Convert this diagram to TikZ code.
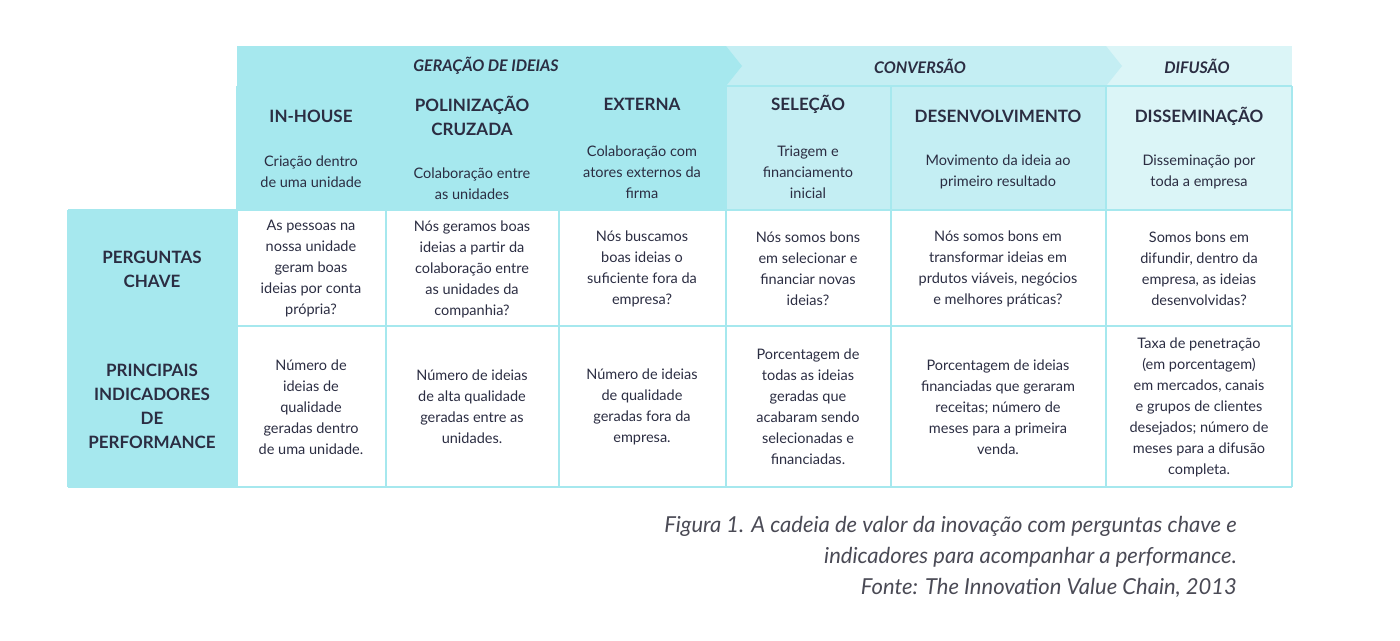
\documentclass[tikz,border=0pt]{standalone}
\usepackage{fontspec}
\setmainfont{Lato}
\definecolor{cA}{HTML}{A6E8EE}
\definecolor{cB}{HTML}{C4EEF3}
\definecolor{cC}{HTML}{DBF5F7}
\definecolor{ink}{HTML}{2B2D42}
\definecolor{cap}{HTML}{4A4A55}
\begin{document}
\begin{tikzpicture}[x=1pt,y=-1pt,
 body/.style={align=center,text=ink,font=\fontsize{14.5}{21}\selectfont,inner sep=0pt},
 hd/.style={align=center,text=ink,font=\bfseries\fontsize{17}{24}\selectfont,inner sep=0pt},
 band/.style={text=ink,font=\bfseries\itshape\fontsize{16}{20}\selectfont,inner sep=0pt},
 grid/.style={draw=cA,line width=2pt}]
\useasboundingbox (0,0) rectangle (1400,640);
% bands
\fill[cC] (1106,46) rectangle (1292,210);
\fill[cB] (726,46) -- (1106,46) -- (1122,66) -- (1106,86) -- (726,86) -- cycle;
\fill[cB] (726,86) rectangle (1106,210);
\fill[cA] (237,46) -- (726,46) -- (742,66) -- (726,86) -- (237,86) -- cycle;
\fill[cA] (237,86) rectangle (726,210);
\fill[cA] (68,210) rectangle (237,487);
% grid
\draw[grid] (237,86) -- (1292,86);
\draw[grid] (68,210) -- (1292,210);
\draw[grid] (68,326) -- (1292,326);
\draw[grid] (68,487) -- (1292,487);
\draw[grid] (1292,86) -- (1292,487);
\draw[grid] (68,210) -- (68,487);
\foreach \x in {237,386,559,726,891,1106} \draw[grid] (\x,86) -- (\x,487);
% band texts
\node[band] (b1) at (486,66) {GERAÇÃO DE IDEIAS};
\node[band] (b2) at (920,66) {CONVERSÃO};
\node[band] (b3) at (1197,66) {DIFUSÃO};
% headers
\node[hd] (h1) at (311,116) {IN-HOUSE};
\node[hd] (h2) at (472,116) {POLINIZAÇÃO\\CRUZADA};
\node[hd] (h3) at (642,104) {EXTERNA};
\node[hd] (h4) at (808,104) {SELEÇÃO};
\node[hd] (h5) at (998,116) {DESENVOLVIMENTO};
\node[hd] (h6) at (1199,116) {DISSEMINAÇÃO};
\node[body] (d1) at (311,172) {Criação dentro\\de uma unidade};
\node[body] (d2) at (472,184) {Colaboração entre\\as unidades};
\node[body] (d3) at (642,172) {Colaboração com\\atores externos da\\firma};
\node[body] (d4) at (808,172) {Triagem e\\financiamento\\inicial};
\node[body] (d5) at (998,172) {Movimento da ideia ao\\primeiro resultado};
\node[body] (d6) at (1199,172) {Disseminação por\\toda a empresa};
% row labels
\node[hd] (r1) at (152,269) {PERGUNTAS\\CHAVE};
\node[hd] (r2) at (152,406) {PRINCIPAIS\\INDICADORES\\DE\\PERFORMANCE};
% row 1
\node[body] (q1) at (311,269) {As pessoas na\\nossa unidade\\geram boas\\ideias por conta\\própria?};
\node[body] (q2) at (472,269) {Nós geramos boas\\ideias a partir da\\colaboração entre\\as unidades da\\companhia?};
\node[body] (q3) at (642,269) {Nós buscamos\\boas ideias o\\suficiente fora da\\empresa?};
\node[body] (q4) at (808,269) {Nós somos bons\\em selecionar e\\financiar novas\\ideias?};
\node[body] (q5) at (998,269) {Nós somos bons em\\transformar ideias em\\prdutos viáveis, negócios\\e melhores práticas?};
\node[body] (q6) at (1199,269) {Somos bons em\\difundir, dentro da\\empresa, as ideias\\desenvolvidas?};
% row 2
\node[body] (p1) at (311,407) {Número de\\ideias de\\qualidade\\geradas dentro\\de uma unidade.};
\node[body] (p2) at (472,407) {Número de ideias\\de alta qualidade\\geradas entre as\\unidades.};
\node[body] (p3) at (642,407) {Número de ideias\\de qualidade\\geradas fora da\\empresa.};
\node[body] (p4) at (808,407) {Porcentagem de\\todas as ideias\\geradas que\\acabaram sendo\\selecionadas e\\financiadas.};
\node[body] (p5) at (998,407) {Porcentagem de ideias\\financiadas que geraram\\receitas; número de\\meses para a primeira\\venda.};
\node[body] (p6) at (1199,407) {Taxa de penetração\\(em porcentagem)\\em mercados, canais\\e grupos de clientes\\desejados; número de\\meses para a difusão\\completa.};
% caption
\node[align=right,anchor=north east,text=cap,font=\itshape\fontsize{22}{31}\selectfont,inner sep=0pt] (cp) at (1237,516) {Figura 1. A cadeia de valor da inovação com perguntas chave e\\indicadores para acompanhar a performance.\\Fonte: The Innovation Value Chain, 2013};
\end{tikzpicture}
\end{document}
